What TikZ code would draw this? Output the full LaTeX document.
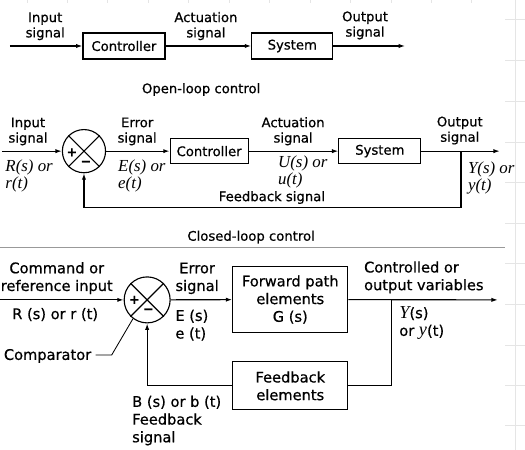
\documentclass[tikz,border=0pt]{standalone}
\usepackage{fontspec}
\setmainfont{DejaVu Sans}[FakeBold=0.6]
\newfontfamily\handfont{Liberation Serif}
\usetikzlibrary{arrows.meta}

\tikzset{
  sig/.style={font=\fontsize{9.4}{10.9}\selectfont,align=center,inner sep=0pt},
  sigb/.style={font=\fontsize{10.4}{12.6}\selectfont,align=center,inner sep=0pt},
  hand/.style={font=\fontsize{12}{12}\selectfont\handfont\itshape,align=left,inner sep=0pt},
  blk/.style={draw,line width=0.8pt,inner sep=0pt,align=center,font=\fontsize{9.4}{10.9}\selectfont},
  blkb/.style={draw,line width=0.8pt,inner sep=0pt,align=center,font=\fontsize{10.4}{12.6}\selectfont},
  sumpt/.style={draw,circle,line width=0.8pt,inner sep=0pt},
  pm/.style={font=\fontsize{9}{9}\selectfont\bfseries,inner sep=0pt},
  flow/.style={line width=0.8pt,-{Latex[length=4.5pt,width=3pt]}},
  wire/.style={line width=0.8pt},
  grid/.style={black!10,line width=0.5pt}
}

\begin{document}
\begin{tikzpicture}
\useasboundingbox (0,0) rectangle (13.13,-11.25);
% paper grid
\draw[grid] (12.88,0) -- (12.88,-11.25);
\foreach \y in {0.48,1.50,2.53,3.55,4.55,5.58,6.58,7.60,8.63,9.63,10.63}
  \draw[grid] (12.63,-\y) -- (13.13,-\y);
\foreach \x in {0.68,1.68,2.68,3.70,4.70,5.73,6.73,7.75,8.75,9.78,10.78,11.80}
  \draw[grid] (\x,0) -- (\x,-0.07);

% open loop
\coordinate (in1) at (0.25,-1.15);
\node[blk,minimum width=2.05cm,minimum height=0.65cm] (ctrl1) at (3.10,-1.15) {Controller};
\node[blk,minimum width=2.03cm,minimum height=0.65cm] (sys1) at (7.31,-1.15) {System};
\coordinate (out1) at (10.13,-1.15);
\draw[flow] (in1) -- (ctrl1);
\draw[flow] (ctrl1) -- (sys1);
\draw[flow] (sys1) -- (out1);
\node[sig,anchor=south] (inlbl1) at (1.13,-1.01) {Input\\signal};
\node[sig,anchor=south] (actlbl1) at (5.15,-1.01) {Actuation\\signal};
\node[sig,anchor=south] (outlbl1) at (9.13,-0.99) {Output\\signal};
\node[sig,anchor=base] (title1) at (5.03,-2.33) {Open-loop control};

% closed loop
\coordinate (in2) at (0.05,-3.78);
\node[sumpt,minimum size=1.08cm] (sum1) at (2.10,-3.78) {};
\draw[wire] (sum1.45) -- (sum1.225) (sum1.135) -- (sum1.315);
\node[pm] (p1) at ([xshift=-0.30cm,yshift=-0.03cm]sum1.center) {+};
\node[pm] (m1) at ([xshift=0.05cm,yshift=-0.30cm]sum1.center) {−};
\node[blk,minimum width=1.95cm,minimum height=0.63cm] (ctrl2) at (5.23,-3.78) {Controller};
\node[blk,minimum width=2.05cm,minimum height=0.63cm] (sys2) at (9.50,-3.78) {System};
\coordinate (out2) at (12.50,-3.78);
\coordinate (tap2) at (11.53,-3.78);
\draw[flow] (in2) -- (sum1);
\draw[flow] (sum1) -- (ctrl2);
\draw[flow] (ctrl2) -- (sys2);
\draw[flow] (sys2) -- (out2);
\draw[flow] (tap2) -- ++(0,-1.42) -| (sum1.south);
\node[sig,anchor=south] (inlbl2) at (0.70,-3.64) {Input\\signal};
\node[sig,anchor=south] (errlbl2) at (3.43,-3.64) {Error\\signal};
\node[sig,anchor=south] (actlbl2) at (7.33,-3.64) {Actuation\\signal};
\node[sig,anchor=south] (outlbl2) at (11.50,-3.62) {Output\\signal};
\node[sig,anchor=base] (fblbl2) at (6.80,-5.03) {Feedback signal};
\node[hand,anchor=north west] (rs2) at (0.13,-4.00) {R(s) or\\r(t)};
\node[hand,anchor=north west] (es2) at (2.95,-4.00) {E(s) or\\e(t)};
\node[hand,anchor=north west] (us2) at (6.95,-3.90) {U(s) or\\u(t)};
\node[hand,anchor=north west] (ys2) at (11.70,-4.04) {Y(s) or\\y(t)};
\node[sig,anchor=base] (title2) at (6.28,-6.02) {Closed-loop control};
\draw[black!40,line width=1.2pt] (0,-6.19) -- (12.63,-6.19);

% general closed loop
\coordinate (in3) at (0,-7.50);
\node[sumpt,minimum size=1.15cm] (sum2) at (3.68,-7.50) {};
\draw[wire] (sum2.45) -- (sum2.225) (sum2.135) -- (sum2.315);
\node[pm] (p2) at ([xshift=-0.32cm]sum2.center) {+};
\node[pm] (m2) at ([xshift=0.03cm,yshift=-0.28cm]sum2.center) {−};
\node[blkb,minimum width=2.88cm,minimum height=1.63cm] (fwd) at (7.26,-7.49) {Forward path\\elements\\G (s)};
\node[blkb,minimum width=2.88cm,minimum height=1.20cm] (fbk) at (7.26,-9.65) {Feedback\\elements};
\coordinate (out3) at (12.45,-7.50);
\coordinate (tap3) at (9.80,-7.50);
\draw[flow] (in3) -- (sum2);
\draw[flow] (sum2) -- (fwd);
\draw[flow] (fwd) -- (out3);
\draw[wire] (tap3) |- (fbk);
\draw[flow] (fbk) -| (sum2.south);
\node[sigb,anchor=south] (cmdlbl) at (1.42,-7.36) {Command or\\reference input};
\node[sigb,anchor=base] (rlbl) at (1.38,-7.98) {R (s) or r (t)};
\node[sigb,anchor=base] (comp) at (1.19,-9.00) {Comparator};
\draw[line width=0.6pt] ([xshift=3pt,yshift=3.5pt]comp.base east) -- ++(0.40,0) -- (sum2.233);
\node[sigb,anchor=south] (errlbl3) at (4.93,-7.36) {Error\\signal};
\node[sigb,anchor=north west,align=left] (elbl3) at (4.38,-7.74) {E (s)\\e (t)};
\node[sigb,anchor=south west,align=left] (outlbl3) at (9.10,-7.34) {Controlled or\\output variables};
\node[sigb,anchor=north west,align=left] (ylbl3) at (9.98,-7.65) {{\handfont\itshape\fontsize{13}{13}\selectfont Y}(s)\\or {\handfont\itshape\fontsize{13}{13}\selectfont y}(t)};
\node[sigb,anchor=north west,align=left] (blbl3) at (3.30,-9.89) {B (s) or b (t)\\Feedback\\signal};
\end{tikzpicture}
\end{document}
